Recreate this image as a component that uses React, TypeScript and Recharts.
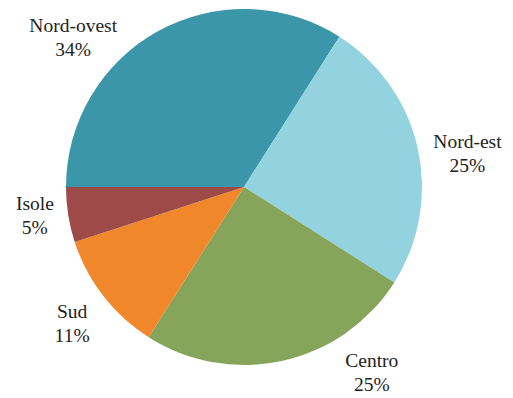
import { PieChart, Pie, Cell } from 'recharts'

const regions = ['Nord-ovest', 'Nord-est', 'Centro', 'Sud', 'Isole']
const shares = [34, 25, 25, 11, 5]

const COLORS = ['#3a96a8', '#93d3e0', '#86a45a', '#f0872b', '#9d4a49']

// label placement tweaks (degrees / px from the pie centre), Excel-style "best fit"
const LABEL_ANGLE_SHIFT = [20, -4, 22, 0.5, -1.4]
const LABEL_DIST = [227, 226, 225, 219, 211]

const data = regions.map((name, i) => ({ name, value: shares[i] }))

const RAD = Math.PI / 180

function renderLabel(props: any) {
  const { cx, cy, midAngle, index, name, value } = props
  const a = (midAngle + LABEL_ANGLE_SHIFT[index]) * RAD
  const r = LABEL_DIST[index]
  const x = cx + r * Math.cos(-a)
  const y = cy + r * Math.sin(-a)
  return (
    <g key={`lbl-${index}`}>
      <text x={x} y={y - 5} textAnchor="middle" fill="#222" fontFamily="Liberation Serif" fontSize={19.5}>
        {name}
      </text>
      <text x={x} y={y + 19} textAnchor="middle" fill="#222" fontFamily="Liberation Serif" fontSize={19.5}>
        {value}%
      </text>
    </g>
  )
}

export default function App() {
  return (
    <div style={{ position: 'absolute', left: 0, top: 0, width: 513, height: 398, background: '#fff' }}>
      <PieChart width={513} height={398} margin={{ top: 0, right: 0, bottom: 0, left: 0 }}>
        <Pie
          data={data}
          dataKey="value"
          nameKey="name"
          cx={244}
          cy={187}
          outerRadius={178}
          startAngle={180}
          endAngle={-180}
          stroke="none"
          label={renderLabel}
          labelLine={false}
          isAnimationActive={false}
        >
          {data.map((_, i) => (
            <Cell key={i} fill={COLORS[i]} />
          ))}
        </Pie>
      </PieChart>
    </div>
  )
}
